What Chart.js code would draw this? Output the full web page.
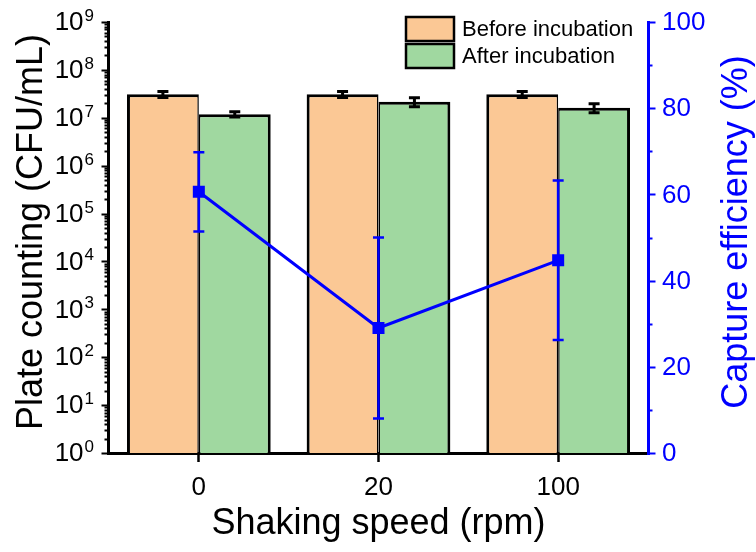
<!DOCTYPE html>
<html>
<head>
<meta charset="utf-8">
<script src="https://cdn.jsdelivr.net/npm/chart.js@4/dist/chart.umd.min.js"></script>
<style>
html,body{margin:0;padding:0;background:#fff;}
#wrap{width:756px;height:552px;position:relative;}
</style>
</head>
<body>
<div id="wrap"><canvas id="c" width="756" height="552"></canvas></div>
<script>
// ---- data ----
const categories = ['0', '20', '100'];
const beforeValues = [3.1e7, 3.1e7, 3.1e7];
const beforeErrors = [4.5e6, 4.5e6, 4.5e6];
const afterValues = [1.19e7, 2.16e7, 1.62e7];
const afterErrors = [1.5e6, 4.6e6, 3.5e6];
const efficiencyValues = [60.6, 29.0, 44.7];
const efficiencyErrors = [9.2, 21.0, 18.5];
const leftExponents = [0, 1, 2, 3, 4, 5, 6, 7, 8, 9];
const rightTicks = [0, 20, 40, 60, 80, 100];
const rightMinorTicks = [10, 30, 50, 70, 90];
const seriesLabels = ['Before incubation', 'After incubation'];

const FONT = '"Liberation Sans", Arial, sans-serif';
const ORANGE = '#FBC895';
const GREEN = '#A0D8A0';
const BLUE = '#0000FF';

function errorBars(chart, dsIndex, scaleId, values, errors, color, capHalf, lw) {
  const meta = chart.getDatasetMeta(dsIndex);
  const ys = chart.scales[scaleId];
  const ctx = chart.ctx;
  ctx.save();
  ctx.strokeStyle = color;
  ctx.lineWidth = lw;
  ctx.lineCap = 'butt';
  meta.data.forEach((el, i) => {
    const x = el.x;
    const yTop = ys.getPixelForValue(values[i] + errors[i]);
    const yBot = ys.getPixelForValue(values[i] - errors[i]);
    ctx.beginPath();
    ctx.moveTo(x, yTop); ctx.lineTo(x, yBot);
    ctx.moveTo(x - capHalf, yTop); ctx.lineTo(x + capHalf, yTop);
    ctx.moveTo(x - capHalf, yBot); ctx.lineTo(x + capHalf, yBot);
    ctx.stroke();
  });
  ctx.restore();
}

const decor = {
  id: 'decor',
  afterDatasetDraw(chart, args) {
    if (args.index === 0) errorBars(chart, 0, 'y', beforeValues, beforeErrors, '#000', 5.5, 3);
    if (args.index === 1) errorBars(chart, 1, 'y', afterValues, afterErrors, '#000', 5.5, 3);
  },
  beforeDatasetDraw(chart, args) {
    if (args.index === 2) errorBars(chart, 2, 'y2', efficiencyValues, efficiencyErrors, BLUE, 5.5, 2.5);
  },
  afterDraw(chart) {
    const ctx = chart.ctx;
    const ca = chart.chartArea;
    const y = chart.scales.y;
    const y2 = chart.scales.y2;
    ctx.save();
    // left axis
    const lx = ca.left - 0.5;
    ctx.strokeStyle = '#000';
    ctx.lineWidth = 3;
    ctx.beginPath(); ctx.moveTo(lx, ca.top - 1); ctx.lineTo(lx, ca.bottom + 2); ctx.stroke();
    ctx.lineWidth = 2;
    leftExponents.forEach(e => {
      const py = Math.round(y.getPixelForValue(Math.pow(10, e))) + 0.5;
      ctx.beginPath(); ctx.moveTo(lx, py); ctx.lineTo(lx - 7, py); ctx.stroke();
      if (e < 9) {
        for (let m = 2; m <= 9; m++) {
          const my = Math.round(y.getPixelForValue(m * Math.pow(10, e))) + 0.5;
          ctx.beginPath(); ctx.moveTo(lx, my); ctx.lineTo(lx - 4, my); ctx.stroke();
        }
      }
    });
    // left tick labels
    ctx.fillStyle = '#000';
    const baseFont = '26px ' + FONT;
    const supFont = '17px ' + FONT;
    leftExponents.forEach(e => {
      const py = y.getPixelForValue(Math.pow(10, e));
      const sup = String(e);
      ctx.font = supFont;
      const w2 = ctx.measureText(sup).width;
      ctx.font = baseFont;
      const w1 = ctx.measureText('10').width;
      const xr = 94;
      ctx.textBaseline = 'middle';
      ctx.textAlign = 'left';
      ctx.fillText('10', xr - w2 - w1 - 1, py + 1);
      ctx.font = supFont;
      ctx.textBaseline = 'alphabetic';
      ctx.fillText(sup, xr - w2, py - 1);
    });
    // right axis
    const rx = ca.right + 0.5;
    ctx.strokeStyle = BLUE;
    ctx.lineWidth = 3;
    ctx.beginPath(); ctx.moveTo(rx, ca.top - 1); ctx.lineTo(rx, ca.bottom + 2); ctx.stroke();
    ctx.lineWidth = 2;
    rightTicks.forEach(v => {
      const py = Math.round(y2.getPixelForValue(v)) + 0.5;
      ctx.beginPath(); ctx.moveTo(rx, py); ctx.lineTo(rx + 7, py); ctx.stroke();
    });
    rightMinorTicks.forEach(v => {
      const py = Math.round(y2.getPixelForValue(v)) + 0.5;
      ctx.beginPath(); ctx.moveTo(rx, py); ctx.lineTo(rx + 4, py); ctx.stroke();
    });
    ctx.fillStyle = BLUE;
    ctx.font = baseFont;
    ctx.textAlign = 'left';
    ctx.textBaseline = 'middle';
    rightTicks.forEach(v => {
      ctx.fillText(String(v), 662, y2.getPixelForValue(v) + 1);
    });
    // axis titles
    ctx.font = '36px ' + FONT;
    ctx.textAlign = 'center';
    ctx.textBaseline = 'middle';
    ctx.save();
    ctx.translate(32, 232); ctx.rotate(-Math.PI / 2);
    ctx.fillStyle = '#000';
    ctx.fillText('Plate counting (CFU/mL)', 0, 0);
    ctx.restore();
    ctx.save();
    ctx.translate(737, 232); ctx.rotate(-Math.PI / 2);
    ctx.fillStyle = BLUE;
    ctx.fillText('Capture efficiency (%)', 0, 0);
    ctx.restore();
    // legend
    const boxes = [ORANGE, GREEN];
    ctx.lineWidth = 2.5;
    ctx.strokeStyle = '#000';
    ctx.font = '22px ' + FONT;
    ctx.textAlign = 'left';
    ctx.textBaseline = 'middle';
    boxes.forEach((col, i) => {
      const by = 17 + i * 27;
      ctx.fillStyle = col;
      ctx.fillRect(406, by, 48, 24);
      ctx.strokeRect(406, by, 48, 24);
      ctx.fillStyle = '#000';
      ctx.fillText(chart.data.datasets[i].label, 462, by + 13);
    });
    ctx.restore();
  }
};

const chart = new Chart(document.getElementById('c'), {
  type: 'bar',
  data: {
    labels: categories,
    datasets: [
      {
        label: seriesLabels[0], data: beforeValues, yAxisID: 'y', order: 1,
        backgroundColor: ORANGE, borderColor: '#000',
        borderWidth: {top: 3, left: 3, right: 1.5, bottom: 0},
        categoryPercentage: 0.8, barPercentage: 1.0
      },
      {
        label: seriesLabels[1], data: afterValues, yAxisID: 'y', order: 1,
        backgroundColor: GREEN, borderColor: '#000',
        borderWidth: {top: 3, left: 1.5, right: 3, bottom: 0},
        categoryPercentage: 0.8, barPercentage: 1.0
      },
      {
        type: 'line', label: 'Capture efficiency', data: efficiencyValues, yAxisID: 'y2', order: 0,
        borderColor: BLUE, backgroundColor: BLUE, borderWidth: 3,
        pointStyle: 'rect', pointRadius: 8.5, pointBorderWidth: 0,
        pointBackgroundColor: BLUE, tension: 0
      }
    ]
  },
  options: {
    responsive: false,
    animation: false,
    devicePixelRatio: 1,
    layout: {padding: {left: 109, right: 108, top: 22, bottom: 0}},
    plugins: {legend: {display: false}, tooltip: {enabled: false}},
    scales: {
      x: {
        type: 'category',
        offset: true,
        grid: {display: true, drawOnChartArea: false, drawTicks: true, tickLength: 9, tickWidth: 2.5, tickColor: '#000', offset: false},
        border: {display: true, color: '#000', width: 3},
        ticks: {color: '#000', font: {family: FONT, size: 26}, padding: 10},
        title: {display: true, text: 'Shaking speed (rpm)', color: '#000', font: {family: FONT, size: 36}, padding: {top: 0, bottom: 6}},
        afterFit(s) { s.height = 99; }
      },
      y: {
        type: 'logarithmic', position: 'left', min: 1, max: 1e9, display: false
      },
      y2: {
        type: 'linear', position: 'right', min: 0, max: 100, display: false
      }
    }
  },
  plugins: [decor]
});
</script>
</body>
</html>
